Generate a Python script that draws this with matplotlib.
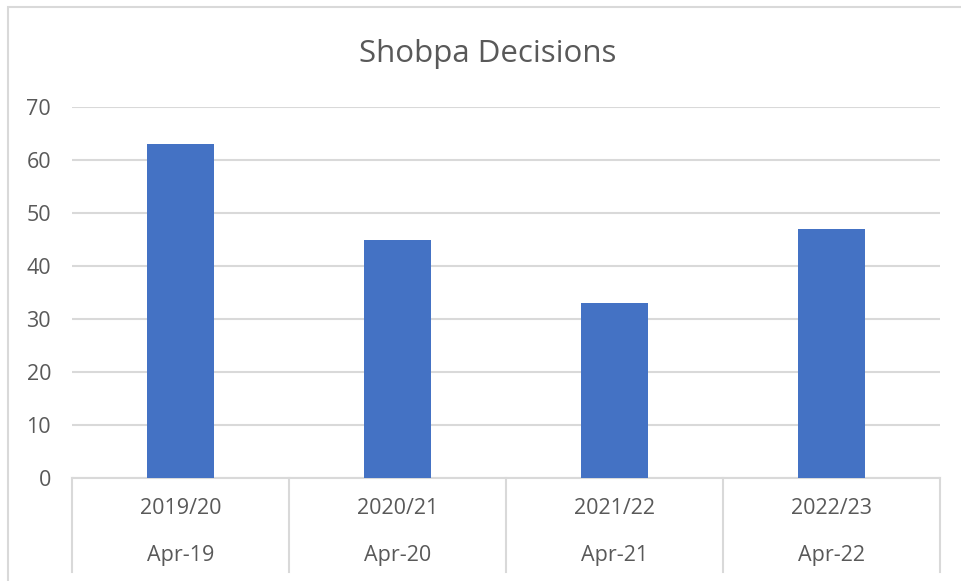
import matplotlib
matplotlib.use("Agg")
import matplotlib.pyplot as plt
from matplotlib.patches import Rectangle
from matplotlib.transforms import blended_transform_factory

# data
years = ["2019/20", "2020/21", "2021/22", "2022/23"]
months = ["Apr-19", "Apr-20", "Apr-21", "Apr-22"]
decisions = [63, 45, 33, 47]

plt.rcParams['font.family'] = ['Open Sans', 'DejaVu Sans']
GRAY = "#d9d9d9"
TEXT = "#595959"

W, H = 961, 581
fig = plt.figure(figsize=(W / 100, H / 100), dpi=100)

# chart border (left and top visible, the rest runs off the image)
fig.patches.append(Rectangle((8 / W, -0.05), 1.1, 1 - 7 / H + 0.05,
                             transform=fig.transFigure, fill=False,
                             edgecolor=GRAY, lw=1.5))

left, right, bottom, top = 72, 940, 478, 107
ax = fig.add_axes([left / W, 1 - bottom / H, (right - left) / W, (bottom - top) / H])

x = range(len(years))
ax.bar(x, decisions, width=0.31, color="#4472C4", zorder=3)
ax.set_xlim(-0.5, len(years) - 0.5)
ax.set_ylim(0, 70)
ax.set_yticks(range(0, 71, 10))
ax.yaxis.grid(True, color=GRAY, lw=1.5, zorder=0)
ax.tick_params(axis='y', length=0, pad=15, labelsize=15.5, labelcolor=TEXT)
ax.set_xticks([])
for s in ["top", "right", "left"]:
    ax.spines[s].set_visible(False)
ax.spines["bottom"].set_color(GRAY)
ax.spines["bottom"].set_linewidth(1.5)

# two-level category axis
tr = blended_transform_factory(ax.transData, ax.transAxes)
depth = (bottom - 572) / (bottom - top)
for i in range(len(years) + 1):
    ax.plot([i - 0.5, i - 0.5], [0, depth], color=GRAY, lw=1.5,
            transform=tr, clip_on=False)
for i, (yr, mo) in enumerate(zip(years, months)):
    ax.text(i, (bottom - 509) / (bottom - top), yr, transform=tr,
            ha="center", va="center", fontsize=15.5, color=TEXT)
    ax.text(i, (bottom - 556) / (bottom - top), mo, transform=tr,
            ha="center", va="center", fontsize=15.5, color=TEXT)

fig.text(488 / W, 1 - 54 / H, "Shobpa Decisions", ha="center", va="center",
         fontsize=22.5, color=TEXT)

fig.savefig("out.png", dpi=100)
